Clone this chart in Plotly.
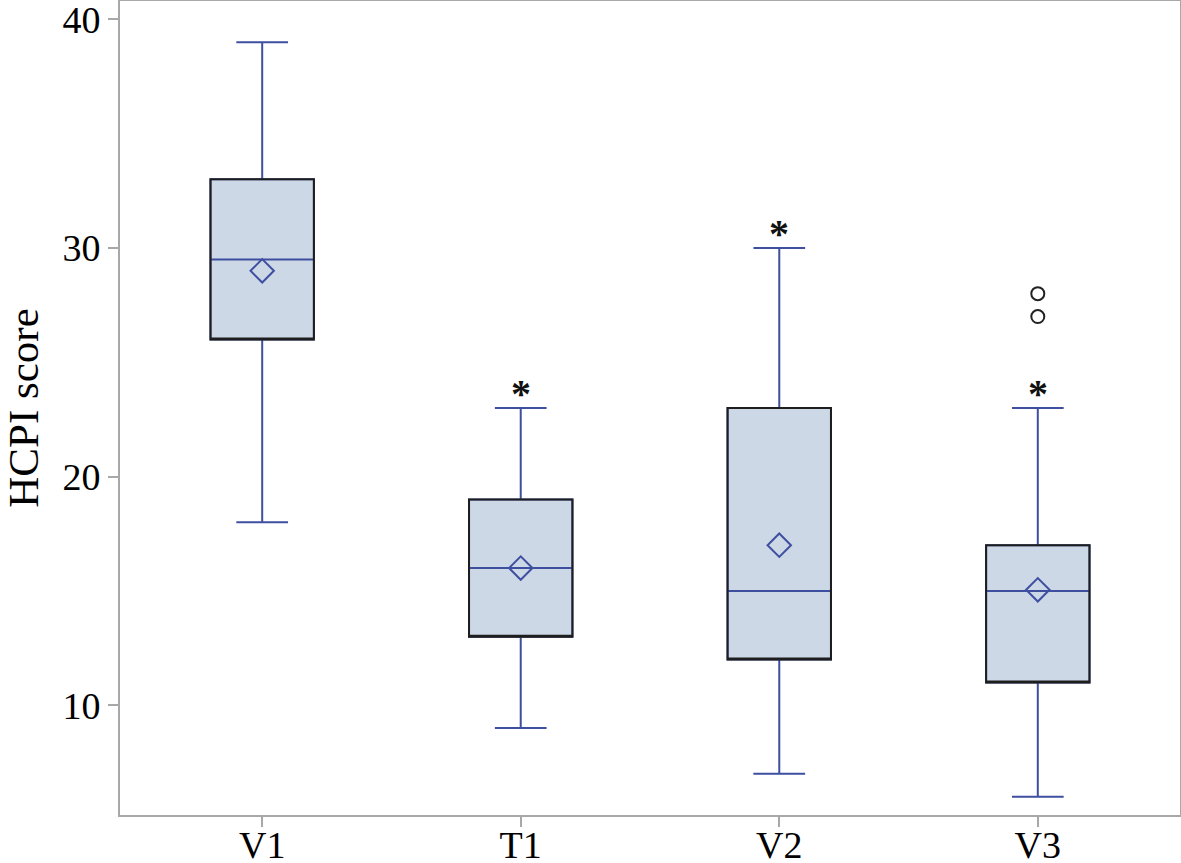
import plotly.graph_objects as go

# summary statistics
groups = ["V1", "T1", "V2", "V3"]
lower = [18, 9, 7, 6]
q1 = [26, 13, 12, 11]
median = [29.5, 16, 15, 15]
q3 = [33, 19, 23, 17]
upper = [39, 23, 30, 23]
means = [29, 16, 17, 15.05]
outlier_x = ["V3", "V3"]
outlier_y = [27, 28]
star_groups = ["T1", "V2", "V3"]

BLUE = "#3F4FA0"
FILL = "#CCD8E6"
FONT = "Liberation Serif, Times New Roman, serif"

fig = go.Figure()

# whiskers, median and fill in blue
fig.add_trace(
    go.Box(
        x=groups,
        q1=q1,
        median=median,
        q3=q3,
        lowerfence=lower,
        upperfence=upper,
        width=0.4,
        whiskerwidth=0.5,
        fillcolor=FILL,
        line=dict(color=BLUE, width=2),
        hoverinfo="skip",
        showlegend=False,
    )
)

# dark outline of the box
fig.add_trace(
    go.Box(
        x=groups,
        q1=q1,
        median=q1,
        q3=q3,
        lowerfence=q1,
        upperfence=q3,
        width=0.4,
        whiskerwidth=0,
        fillcolor="rgba(0,0,0,0)",
        line=dict(color="#1E1E1E", width=2),
        hoverinfo="skip",
        showlegend=False,
    )
)

# means as open diamonds
fig.add_trace(
    go.Scatter(
        x=groups,
        y=means,
        mode="markers",
        marker=dict(symbol="diamond-open", size=18, color=BLUE, line=dict(width=2)),
        showlegend=False,
    )
)

# outliers
fig.add_trace(
    go.Scatter(
        x=outlier_x,
        y=outlier_y,
        mode="markers",
        marker=dict(symbol="circle-open", size=13, color="#222222", line=dict(width=2)),
        showlegend=False,
    )
)

for g in star_groups:
    i = groups.index(g)
    fig.add_annotation(
        x=g,
        y=upper[i],
        text="<b>*</b>",
        showarrow=False,
        yanchor="bottom",
        yshift=-10,
        font=dict(family=FONT, size=40, color="#111111"),
    )

fig.update_layout(
    width=1181,
    height=863,
    template="simple_white",
    plot_bgcolor="white",
    paper_bgcolor="white",
    margin=dict(l=120, r=1, t=1, b=48),
    font=dict(family=FONT, size=38, color="black"),
    boxmode="overlay",
)

fig.update_xaxes(
    type="category",
    range=[-0.55, 3.55],
    automargin=False,
    showline=True,
    linecolor="#A8A8A8",
    linewidth=2,
    mirror=True,
    ticks="outside",
    ticklen=10,
    tickwidth=2,
    tickcolor="#A8A8A8",
    tickfont=dict(family=FONT, size=38),
    ticklabelstandoff=-15,
    ticklabeloverflow="allow",
)
fig.update_yaxes(
    range=[5.2, 40.8],
    tickvals=[10, 20, 30, 40],
    automargin=False,
    showline=True,
    linecolor="#A8A8A8",
    linewidth=2,
    mirror=True,
    ticks="outside",
    ticklen=10,
    tickwidth=2,
    tickcolor="#A8A8A8",
    tickfont=dict(family=FONT, size=38),
    ticklabeloverflow="allow",
    title=dict(text="HCPI score", font=dict(family=FONT, size=43), standoff=30),
    showgrid=False,
    zeroline=False,
)

# drop the browser's default page margin so the figure sits at the corner
fig.write_html(
    "out.html",
    config={"displayModeBar": False},
    post_script="document.body.style.margin = '0';",
)
